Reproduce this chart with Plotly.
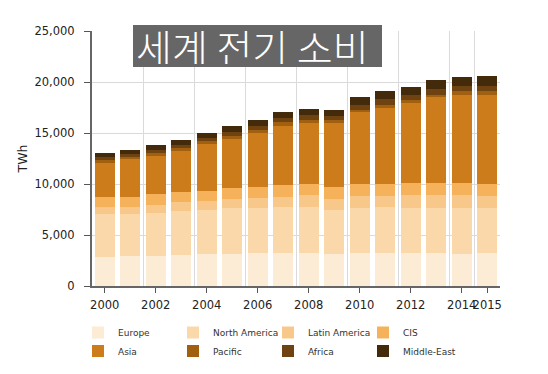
import plotly.graph_objects as go

years = list(range(2000, 2016))
tick_years = [2000, 2002, 2004, 2006, 2008, 2010, 2012, 2014, 2015]
grid_years = [1999.5, 2001.5, 2003.5, 2005.5, 2007.5, 2009.5, 2011.5, 2013.5, 2014.5, 2015.5]

europe = [2840, 2935, 2935, 3075, 3170, 3170, 3270, 3270, 3270, 3170, 3220, 3200, 3230, 3230, 3170, 3230]
north_america = [4175, 4110, 4175, 4265, 4270, 4430, 4330, 4495, 4495, 4270, 4445, 4500, 4435, 4435, 4430, 4370]
latin_america = [745, 715, 850, 860, 915, 920, 990, 985, 1150, 1080, 1155, 1150, 1250, 1250, 1315, 1250]
cis = [990, 990, 1025, 980, 985, 1055, 1085, 1150, 1085, 1155, 1180, 1150, 1215, 1215, 1215, 1150]
asia = [3290, 3680, 3775, 4100, 4570, 4855, 5320, 5815, 5980, 6305, 7025, 7480, 7820, 8370, 8640, 8770]
pacific = [325, 260, 265, 235, 260, 230, 255, 325, 325, 255, 265, 300, 260, 270, 325, 325]
africa = [325, 265, 325, 325, 330, 395, 395, 430, 425, 395, 490, 565, 560, 590, 560, 560]
middle_east = [395, 425, 460, 495, 495, 590, 590, 555, 660, 660, 720, 750, 720, 820, 855, 915]

series_names = ["Europe", "North America", "Latin America", "CIS",
                "Asia", "Pacific", "Africa", "Middle-East"]
series_values = [europe, north_america, latin_america, cis,
                 asia, pacific, africa, middle_east]
colors = ["#FCEBD5", "#FAD8A9", "#F8C88A", "#F5B25A",
          "#CC7C1A", "#A0600F", "#6F4211", "#432A0A"]

title_text = "세계 전기 소비"
y_title = "TWh"

fig = go.Figure()
for i, (name, vals, col) in enumerate(zip(series_names, series_values, colors)):
    fig.add_trace(go.Bar(
        x=years, y=vals, name=name,
        marker=dict(color=col, line=dict(width=0)),
        legend="legend" if i < 4 else "legend2",
    ))

# page has an 8px body margin; figure coordinates are page coordinates - 8
W, H = 532, 358
L, R, T, B = 84, 40, 23, 80
pw, ph = W - L - R, H - T - B


def py(y_fig):
    return (T + ph - y_fig) / ph


legend_common = dict(
    orientation="h", xref="container", yref="container",
    xanchor="left", x=70 / W, yanchor="middle",
    entrywidth=50, font=dict(family="DejaVu Sans", size=9, color="#333333"),
    traceorder="normal", bgcolor="rgba(0,0,0,0)", borderwidth=0,
)

fig.update_layout(
    width=W, height=H,
    margin=dict(l=L, r=R, t=T, b=B, pad=0, autoexpand=False),
    barmode="stack", bargap=0.22,
    paper_bgcolor="white", plot_bgcolor="white",
    font=dict(family="DejaVu Sans", size=11.5, color="#333333"),
    showlegend=True,
    legend=dict(legend_common, y=1 - 324.5 / H),
    legend2=dict(legend_common, y=1 - 343 / H),
    xaxis=dict(
        range=[1999.5, 2015.5],
        tickmode="array", tickvals=tick_years, ticktext=[str(y) for y in tick_years],
        tickangle=0, ticklabelstandoff=2,
        ticks="outside", ticklen=5, tickcolor="#555555", tickwidth=1,
        showline=True, linecolor="#666666", linewidth=2,
        showgrid=False, zeroline=False,
        minor=dict(tickmode="array", tickvals=grid_years, showgrid=True,
                   gridcolor="#DADADA", gridwidth=1, ticks=""),
        tickfont=dict(size=11.5, color="#222222"),
    ),
    yaxis=dict(
        range=[0, 25000], tickmode="array", tickvals=[0, 5000, 10000, 15000, 20000, 25000],
        tickformat=",d",
        ticks="outside", ticklen=6, tickcolor="#555555", tickwidth=1,
        ticklabelstandoff=7,
        showline=True, linecolor="#666666", linewidth=2,
        showgrid=True, gridcolor="#DADADA", gridwidth=1, zeroline=False,
        tickfont=dict(size=11.5, color="#222222"),
        title=dict(text=y_title, font=dict(size=12.5, color="#222222"), standoff=4),
    ),
)

fig.add_annotation(
    text=title_text, xref="paper", yref="paper",
    x=(125 - L) / pw, y=py(17),
    xanchor="left", yanchor="top", showarrow=False,
    bgcolor="#666666", borderpad=3, borderwidth=0,
    width=243, height=36, align="left",
    font=dict(family="Noto Sans CJK KR", size=39, color="white", weight=300),
)

fig.write_html("out.html")
